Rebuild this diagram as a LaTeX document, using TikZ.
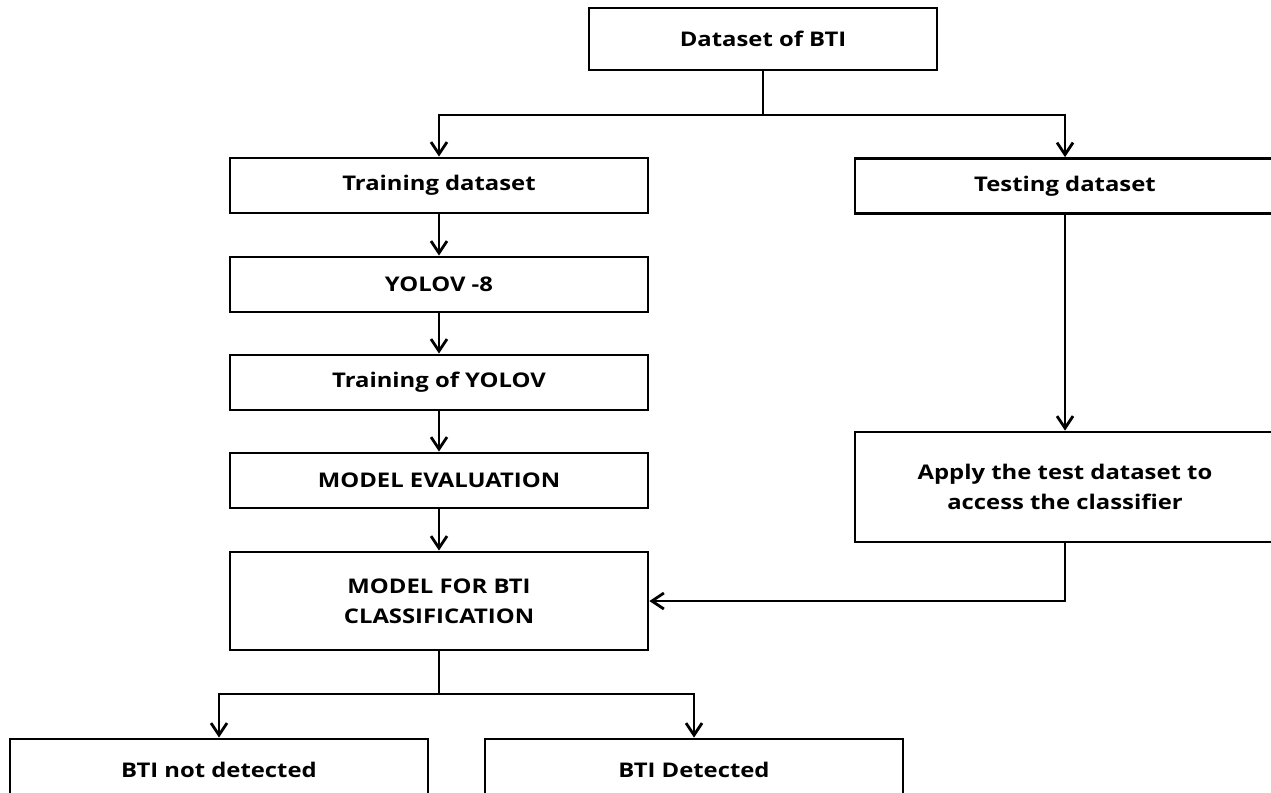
\documentclass[tikz,border=0pt]{standalone}
\usepackage{fontspec}
\setmainfont{Open Sans}[FakeStretch=1.18]
\usepackage{tikz}
\usetikzlibrary{arrows.meta, positioning}

\begin{document}
\begin{tikzpicture}[
      x=0.02cm, y=-0.02cm,
      >={Straight Barb[length=2.4mm, width=3.2mm]},
      line width=1.6pt,
      box/.style={draw, line width=1.6pt, minimum width=8.36cm, minimum height=1.1cm, inner sep=0pt,
        align=center, font=\bfseries\fontsize{11.5}{17}\selectfont},
      wide/.style={box, minimum width=8.4cm},
      leaf/.style={box, minimum height=1.22cm}]
    \useasboundingbox (0,0) rectangle (1271,792);
    % source and the two splits
    \node[box, minimum width=6.96cm, minimum height=1.24cm] (dset) at (763,39) {Dataset of BTI};
    \node[box] (train) at (439,185.5) {Training dataset};
    \node[wide] (test) at (1065,186) {Testing dataset};
    % training column
    \node[box] (yolo) at (439,284.5) {YOLOV -8};
    \node[box] (tyolo) at (439,382.5) {Training of YOLOV};
    \node[box] (eval) at (439,480.5) {MODEL EVALUATION};
    \node[box, minimum height=1.96cm] (mfb) at (439,601) {MODEL FOR BTI\\CLASSIFICATION};
    % testing column
    \node[wide, minimum height=2.2cm] (apply) at (1065,487) {Apply the test dataset to\\access the classifier};
    % outcomes
    \node[leaf] (notdet) at (219,769.5) {BTI not detected};
    \node[leaf] (det) at (694,769.5) {BTI Detected};
    \coordinate (split) at (763,115);
    \coordinate (fork) at (439,694);
    \draw (dset) -- (split);
    \draw[->] (split) -| (train);
    \draw[->] (split) -| (test);
    \draw[->] (train) -- (yolo);
    \draw[->] (yolo) -- (tyolo);
    \draw[->] (tyolo) -- (eval);
    \draw[->] (eval) -- (mfb);
    \draw[->] (test) -- (apply);
    \draw[->] (apply.south) |- (mfb.east);
    \draw (mfb) -- (fork);
    \draw[->] (fork) -| (notdet);
    \draw[->] (fork) -| (det);
  \end{tikzpicture}
\end{document}
